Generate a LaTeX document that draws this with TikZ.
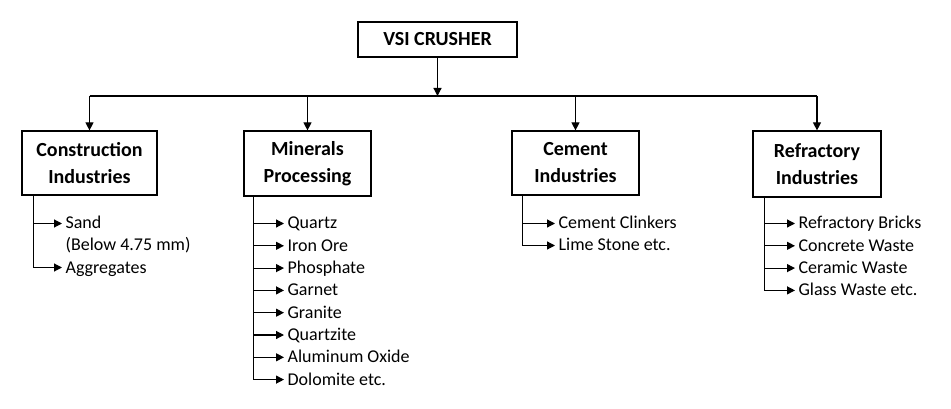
\documentclass[tikz,border=0pt]{standalone}
\usepackage{fontspec}
\setmainfont{Carlito}
\usetikzlibrary{arrows.meta}

\begin{document}
\begin{tikzpicture}[x=1pt,y=-1pt,line width=1.2pt,
    box/.style={draw,align=center,inner sep=0pt,font=\fontsize{20}{27}\selectfont\bfseries},
    item/.style={anchor=base west,inner sep=0pt,text height=13pt,text depth=2pt,font=\fontsize{18}{22}\selectfont},
    head/.style={-{Triangle[length=8pt,width=8pt]}},
    tip/.style={head,shorten >=3pt}]
    \useasboundingbox (0,0) rectangle (951,409);

    \node[box,minimum width=159pt,minimum height=35pt] (vsi) at (437.5,39.5) {VSI CRUSHER};
    \node[box,minimum width=135pt,minimum height=64pt] (con) at (89.5,163) {Construction\\Industries};
    \node[box,minimum width=127pt,minimum height=65pt] (min) at (307.5,163.5) {Minerals\\Processing};
    \node[box,minimum width=127pt,minimum height=64pt] (cem) at (575.5,163) {Cement\\Industries};
    \node[box,minimum width=128pt,minimum height=66pt] (ref) at (817,164) {Refractory\\Industries};

    \coordinate (split) at (vsi.south |- 0,96);
    \draw[head] (vsi.south) -- (split);
    \draw (con.north |- split) -- (ref.north |- split);
    \foreach \b in {con,min,cem,ref}
      \draw[head] (\b.north |- split) -- (\b.north);

    \node[item] (con1) at (65,229) {Sand};
    \node[item] (con2) at (65,251) {(Below 4.75 mm)};
    \node[item] (con3) at (65,273) {Aggregates};
    \coordinate (contop) at ([xshift=12pt]con.south west);
    \draw[tip] (contop) |- (con1.west);
    \draw[tip] (contop) |- (con3.west);

    \foreach \t [count=\i] in {Quartz,Iron Ore,Phosphate,Garnet,Granite,Quartzite,Aluminum Oxide,Dolomite etc.}
      \node[item] (min\i) at (287,{229+22.3*(\i-1)}) {\t};
    \coordinate (mintop) at ([xshift=10pt]min.south west);
    \foreach \i in {1,...,8}
      \draw[tip] (mintop) |- (min\i.west);

    \foreach \t [count=\i] in {Cement Clinkers,Lime Stone etc.}
      \node[item] (cem\i) at (558,{229+22*(\i-1)}) {\t};
    \coordinate (cemtop) at ([xshift=11pt]cem.south west);
    \foreach \i in {1,2}
      \draw[tip] (cemtop) |- (cem\i.west);

    \foreach \t [count=\i] in {Refractory Bricks,Concrete Waste,Ceramic Waste,Glass Waste etc.}
      \node[item] (ref\i) at (798,{229+22.3*(\i-1)}) {\t};
    \coordinate (reftop) at ([xshift=12pt]ref.south west);
    \foreach \i in {1,...,4}
      \draw[tip] (reftop) |- (ref\i.west);
\end{tikzpicture}
\end{document}
